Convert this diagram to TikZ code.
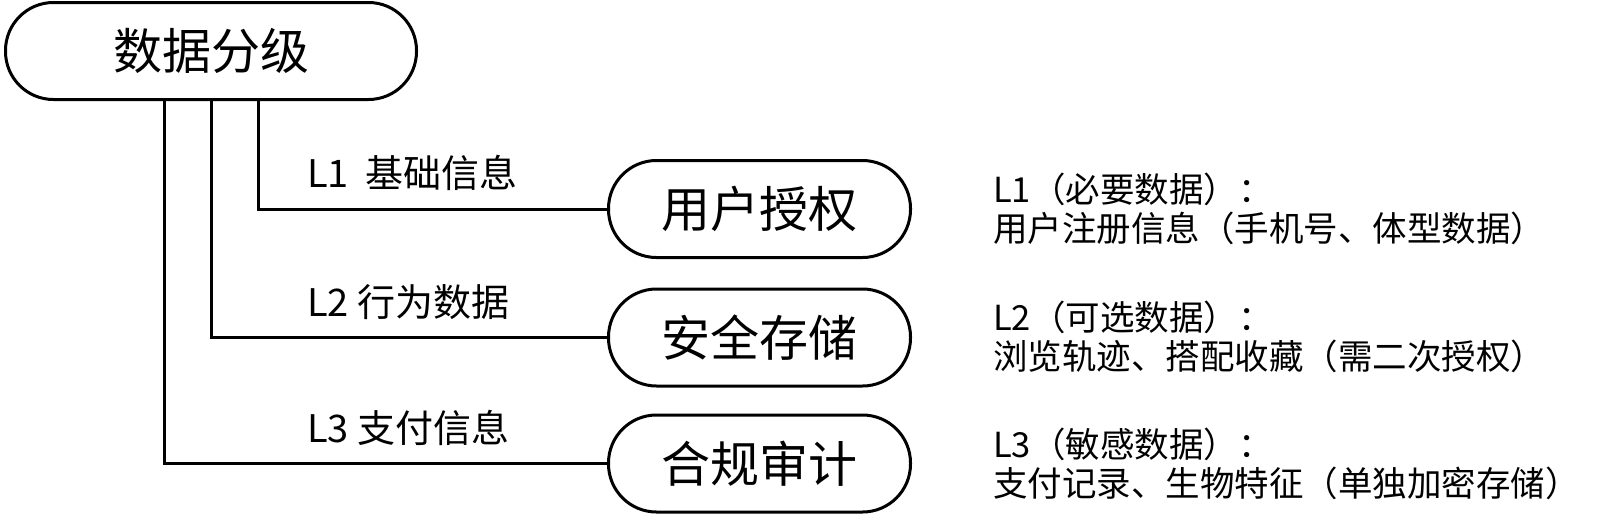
\documentclass[tikz,border=0pt]{standalone}
\usepackage{fontspec}
\setmainfont{Noto Sans CJK SC}
\begin{document}
\begin{tikzpicture}[x=1pt,y=-1pt,
  box/.style={draw, line width=3pt, rounded corners=48pt, minimum height=97pt, inner sep=0pt, font=\fontsize{49}{55}\selectfont},
  link/.style={line width=3pt},
  lbl/.style={anchor=west, inner sep=0pt, font=\fontsize{38}{40}\selectfont},
  desc/.style={anchor=west, inner sep=0pt, align=left, font=\fontsize{34.5}{39}\selectfont}]
\useasboundingbox (0,0) rectangle (1600,515);
\node[box, minimum width=411pt] (top) at (211,51) {数据分级};
\node[box, minimum width=302pt] (c1) at (759.5,209) {用户授权};
\node[box, minimum width=302pt] (c2) at (759.5,337.5) {安全存储};
\node[box, minimum width=302pt] (c3) at (759.5,463.5) {合规审计};
\draw[link] ([xshift=47pt]top.south) |- (c1.west);
\draw[link] (top.south) |- (c2.west);
\draw[link] ([xshift=-47pt]top.south) |- (c3.west);
\node[lbl] (l1) at (307,173) {L1\ \ 基础信息};
\node[lbl] (l2) at (307,302) {L2 行为数据};
\node[lbl] (l3) at (307,428) {L3 支付信息};
\node[desc] (d1) at (993,209) {L1（必要数据）：\\用户注册信息（手机号、体型数据）};
\node[desc] (d2) at (993,337) {L2（可选数据）：\\浏览轨迹、搭配收藏（需二次授权）};
\node[desc] (d3) at (993,463.5) {L3（敏感数据）：\\支付记录、生物特征（单独加密存储）};
\end{tikzpicture}
\end{document}
